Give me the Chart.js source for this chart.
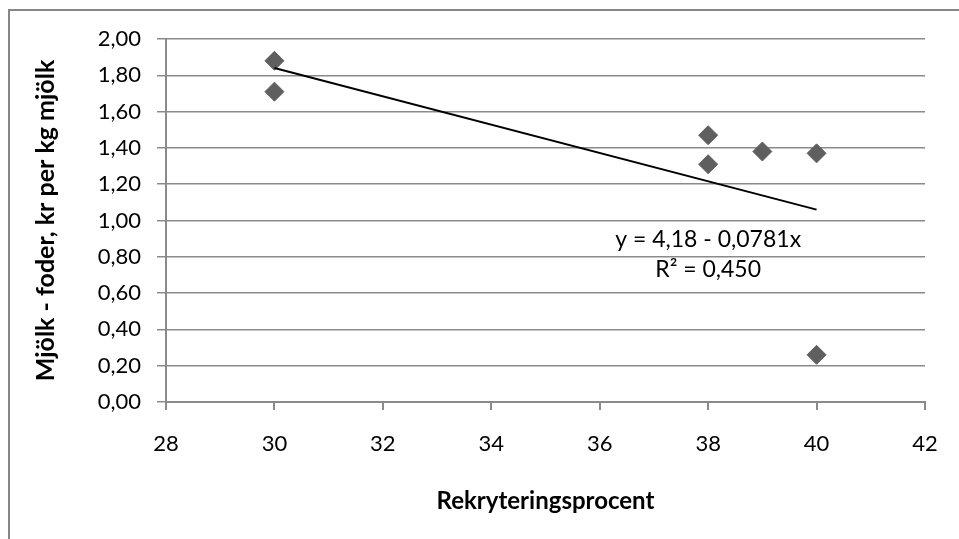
<!DOCTYPE html>
<html>
<head>
<meta charset="utf-8">
<script src="https://cdn.jsdelivr.net/npm/chart.js@4/dist/chart.umd.min.js"></script>
<style>
html,body{margin:0;padding:0;background:#fff;}
#wrap{width:959px;height:539px;position:relative;}
</style>
</head>
<body>
<div id="wrap"><canvas id="c" width="959" height="539"></canvas></div>
<script>
// Data
const recruitmentPct = [30, 30, 38, 38, 39, 40, 40];
const milkMinusFeed = [1.88, 1.71, 1.47, 1.31, 1.38, 1.37, 0.26];
const trendX = [30, 40];
const trendY = [1.84, 1.06];
const equationLines = ['y = 4,18 - 0,0781x', 'R² = 0,450'];
const xTitle = 'Rekryteringsprocent';
const yTitle = 'Mjölk - foder, kr per kg mjölk';

const FONT = 'Lato, "Open Sans", sans-serif';
const GRID = '#8a8a8a';

const points = recruitmentPct.map((x, i) => ({x, y: milkMinusFeed[i]}));
const trend = trendX.map((x, i) => ({x, y: trendY[i]}));

const framePlugin = {
  id: 'frame',
  afterDraw(chart) {
    const ctx = chart.ctx;
    ctx.save();
    ctx.strokeStyle = '#868686';
    ctx.lineWidth = 2;
    ctx.beginPath();
    ctx.moveTo(9, 539);
    ctx.lineTo(9, 10);
    ctx.lineTo(959, 10);
    ctx.stroke();
    // equation text anchored in data space
    const xs = chart.scales.x, ys = chart.scales.y;
    ctx.fillStyle = '#000';
    ctx.font = '23px ' + FONT;
    ctx.textAlign = 'center';
    ctx.textBaseline = 'middle';
    const cx = xs.getPixelForValue(38);
    ctx.fillText(equationLines[0], cx, ys.getPixelForValue(0.895));
    ctx.fillText(equationLines[1], cx, ys.getPixelForValue(0.73));
    ctx.restore();
  }
};

new Chart(document.getElementById('c'), {
  type: 'scatter',
  data: {
    datasets: [
      {
        label: 'data',
        data: points,
        pointStyle: 'rectRot',
        pointRadius: 9.5,
        pointHoverRadius: 9.5,
        backgroundColor: '#5f5f5f',
        borderColor: '#5f5f5f',
        borderWidth: 1,
        order: 2
      },
      {
        label: 'trend',
        type: 'line',
        data: trend,
        showLine: true,
        borderColor: '#000',
        borderWidth: 2,
        pointRadius: 0,
        fill: false,
        order: 1
      }
    ]
  },
  options: {
    responsive: false,
    animation: false,
    devicePixelRatio: 1,
    layout: {padding: {top: 39, right: 34, left: 0, bottom: 0}},
    plugins: {legend: {display: false}, tooltip: {enabled: false}},
    scales: {
      x: {
        type: 'linear',
        min: 28, max: 42,
        afterFit(s) { s.height = 539 - 402 - 0; },
        ticks: {stepSize: 2, color: '#000', font: {family: FONT, size: 22}, padding: 21},
        grid: {drawOnChartArea: false, drawTicks: true, tickLength: 8, color: GRID, lineWidth: 2},
        border: {display: true, color: GRID, width: 2},
        title: {display: true, text: xTitle, color: '#000', font: {family: FONT, size: 24, weight: 'bold'}, padding: {top: 0, bottom: 23}}
      },
      y: {
        min: 0, max: 2,
        afterFit(s) { s.width = 166; },
        ticks: {stepSize: 0.2, color: '#000', font: {family: FONT, size: 22}, padding: 16,
          callback: v => v.toFixed(2).replace('.', ',')},
        grid: {drawTicks: true, tickLength: 9, color: GRID, lineWidth: 1.5},
        border: {display: true, color: GRID, width: 2},
        title: {display: true, text: yTitle, color: '#000', font: {family: FONT, size: 25, weight: 'bold'}, padding: {top: 31, bottom: 0}}
      }
    }
  },
  plugins: [framePlugin]
});
</script>
</body>
</html>
